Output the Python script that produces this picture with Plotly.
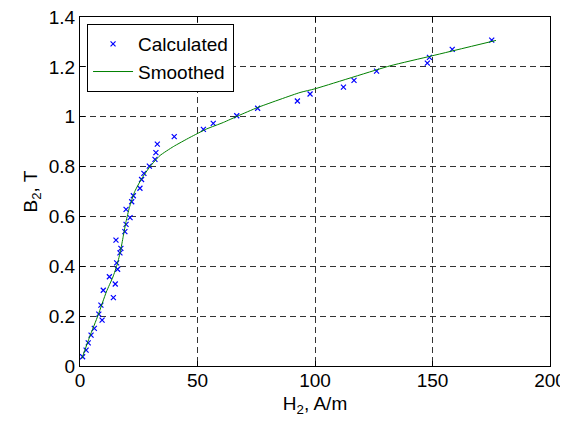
import plotly.graph_objects as go

# Calculated points (H2 in A/m, B2 in T)
calc_h = [1.1, 2.6, 3.5, 4.7, 6.1, 8.0, 9.4, 8.9, 9.9, 12.5, 14.2, 15.0, 15.6, 16.0,
          15.3, 17.0, 17.4, 19.1, 19.6, 21.3, 19.6, 22.0, 22.7, 25.5, 26.2, 27.2,
          29.5, 31.9, 32.3, 32.9, 40.1, 52.5, 56.7, 66.7, 75.6, 92.5, 97.9, 112.1,
          116.6, 126.2, 147.8, 148.7, 158.4, 175.2]
calc_b = [0.037, 0.064, 0.093, 0.124, 0.151, 0.208, 0.184, 0.244, 0.304, 0.358,
          0.274, 0.329, 0.414, 0.388, 0.505, 0.454, 0.472, 0.539, 0.568, 0.595,
          0.628, 0.659, 0.683, 0.713, 0.748, 0.773, 0.802, 0.829, 0.856, 0.890,
          0.920, 0.949, 0.973, 1.004, 1.034, 1.063, 1.091, 1.119, 1.146, 1.183,
          1.215, 1.238, 1.270, 1.307]

# Smoothed curve
smooth_h = [0.8, 4.1, 7.7, 11.2, 14.0, 15.9, 17.2, 18.4, 19.6, 21.0, 23.3, 26.2, 29.8,
            34.0, 39.7, 46.8, 53.9, 61.0, 67.4, 75.6, 93.6, 100.0, 131.9, 149.7, 177.0]
smooth_b = [0.030, 0.117, 0.204, 0.297, 0.357, 0.410, 0.460, 0.520, 0.580, 0.635, 0.700,
            0.751, 0.800, 0.844, 0.880, 0.917, 0.951, 0.977, 1.004, 1.037, 1.097,
            1.112, 1.204, 1.244, 1.306]

x_ticks = [0, 50, 100, 150, 200]
y_ticks = [0, 0.2, 0.4, 0.6, 0.8, 1.0, 1.2, 1.4]
y_tick_labels = ["0", "0.2", "0.4", "0.6", "0.8", "1", "1.2", "1.4"]

FONT = "Liberation Sans, Arial, sans-serif"
FS = 19

fig = go.Figure()
fig.add_trace(go.Scatter(
    x=calc_h, y=calc_b, mode="markers", name="Calculated",
    marker=dict(symbol="x-thin", size=5, color="#0000ff",
                line=dict(color="#0000ff", width=1.2)),
))
fig.add_trace(go.Scatter(
    x=smooth_h, y=smooth_b, mode="lines", name="Smoothed",
    line=dict(color="#008000", width=1, shape="spline", smoothing=0.5),
))

axis_common = dict(
    showline=True, linecolor="black", linewidth=1, mirror="ticks",
    ticks="inside", ticklen=5, tickcolor="black", tickwidth=1,
    showgrid=True, gridcolor="#333333", gridwidth=1, griddash="6px,4px",
    zeroline=False, automargin=False, ticklabeloverflow="allow",
    tickfont=dict(family=FONT, size=FS, color="black"),
)

fig.update_xaxes(
    range=[0, 200], tickvals=x_ticks, ticklabelstandoff=-3,
    title=dict(text="H<sub>2</sub>, A/m", font=dict(family=FONT, size=FS, color="black"),
               standoff=6),
    **axis_common,
)
fig.update_yaxes(
    range=[0, 1.4], tickvals=y_ticks, ticktext=y_tick_labels,
    title=dict(text="B<sub>2</sub>, T", font=dict(family=FONT, size=FS, color="black"),
               standoff=6),
    **axis_common,
)

# The page body has an 8px default margin; offset the figure so the plot lands in place.
fig.update_layout(
    width=560, height=413,
    margin=dict(l=72, r=18, t=9, b=55),
    paper_bgcolor="white", plot_bgcolor="white",
    showlegend=True,
    legend=dict(
        x=0.015, y=0.98, xanchor="left", yanchor="top",
        bgcolor="white", bordercolor="black", borderwidth=1,
        font=dict(family=FONT, size=FS, color="black"),
        itemwidth=40, tracegroupgap=0,
    ),
)

fig.write_html("out.html")
